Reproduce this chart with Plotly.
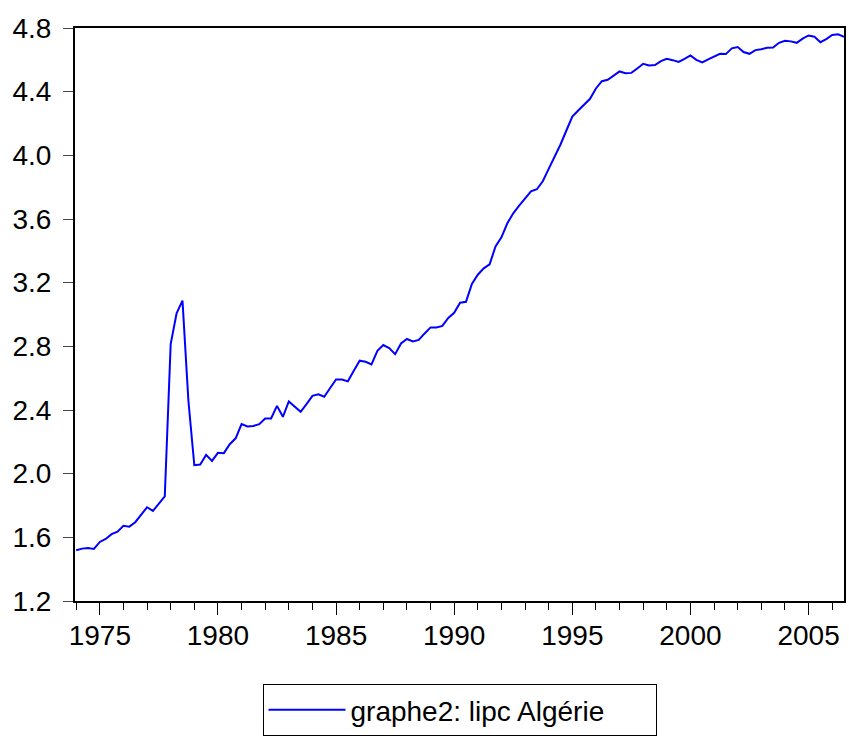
import plotly.graph_objects as go

# Quarterly log consumer price index, Algeria, 1974Q1 - 2006Q3
start_year = 1974
lipc = [
    1.519, 1.529, 1.533, 1.527,   # 1974
    1.571, 1.590, 1.620, 1.636,   # 1975
    1.672, 1.667, 1.695, 1.739,   # 1976
    1.789, 1.766, 1.812, 1.858,   # 1977
    2.814, 3.007, 3.087, 2.458,   # 1978
    2.053, 2.057, 2.118, 2.080,   # 1979
    2.131, 2.129, 2.185, 2.222,   # 1980
    2.311, 2.296, 2.300, 2.311,   # 1981
    2.347, 2.347, 2.426, 2.357,   # 1982
    2.454, 2.422, 2.389, 2.437,   # 1983
    2.489, 2.498, 2.483, 2.538,   # 1984
    2.592, 2.592, 2.580, 2.647,   # 1985
    2.710, 2.703, 2.686, 2.772,   # 1986
    2.808, 2.789, 2.751, 2.818,   # 1987
    2.846, 2.831, 2.840, 2.881,   # 1988
    2.919, 2.919, 2.928, 2.978,   # 1989
    3.011, 3.074, 3.080, 3.192,   # 1990
    3.250, 3.290, 3.315, 3.428,   # 1991
    3.485, 3.573, 3.636, 3.684,   # 1992
    3.730, 3.774, 3.787, 3.837,   # 1993
    3.915, 3.992, 4.068, 4.156,   # 1994
    4.244, 4.282, 4.318, 4.355,   # 1995
    4.420, 4.466, 4.475, 4.502,   # 1996
    4.527, 4.516, 4.518, 4.546,   # 1997
    4.575, 4.565, 4.567, 4.592,   # 1998
    4.606, 4.598, 4.587, 4.606,   # 1999
    4.628, 4.600, 4.584, 4.603,   # 2000
    4.621, 4.638, 4.636, 4.672,   # 2001
    4.680, 4.649, 4.638, 4.661,   # 2002
    4.667, 4.676, 4.678, 4.707,   # 2003
    4.720, 4.716, 4.707, 4.733,   # 2004
    4.753, 4.745, 4.711, 4.730,   # 2005
    4.756, 4.760, 4.744,          # 2006
]
period = [start_year + i / 4 for i in range(len(lipc))]

year_ticks = [1975, 1980, 1985, 1990, 1995, 2000, 2005]
y_ticks = [1.2, 1.6, 2.0, 2.4, 2.8, 3.2, 3.6, 4.0, 4.4, 4.8]

font_family = "Liberation Sans, Arial, sans-serif"

fig = go.Figure()
fig.add_trace(go.Scatter(
    x=period, y=lipc, mode="lines",
    line=dict(color="#0000FF", width=2),
    name="graphe2: lipc Algérie",
))

fig.update_layout(
    width=849, height=736,
    margin=dict(l=75, r=5, t=28, b=135, autoexpand=False),
    paper_bgcolor="white", plot_bgcolor="white",
    font=dict(family=font_family, size=28, color="black"),
    showlegend=True,
    legend=dict(
        orientation="h", x=0.5, xanchor="center", y=-0.145, yanchor="top",
        bordercolor="black", borderwidth=1, bgcolor="white",
        font=dict(size=28), itemwidth=77, entrywidth=300,
    ),
)
fig.update_xaxes(
    range=[1973.95, 2006.5], tickvals=year_ticks, ticks="outside",
    ticklen=12, tickwidth=1, tickcolor="black", ticklabelstandoff=-4,
    minor=dict(dtick=1, tick0=1974, ticks="outside", ticklen=7, tickcolor="black"),
    showline=True, linecolor="black", linewidth=2, mirror=True,
    showgrid=False, zeroline=False,
)
fig.update_yaxes(
    range=[1.2, 4.8], tickvals=y_ticks, tickformat=".1f", ticks="outside",
    ticklen=10, tickwidth=1, tickcolor="#444444", ticklabelstandoff=6,
    showline=True, linecolor="black", linewidth=2, mirror=True,
    showgrid=False, zeroline=False,
)

fig.write_html("out.html")
